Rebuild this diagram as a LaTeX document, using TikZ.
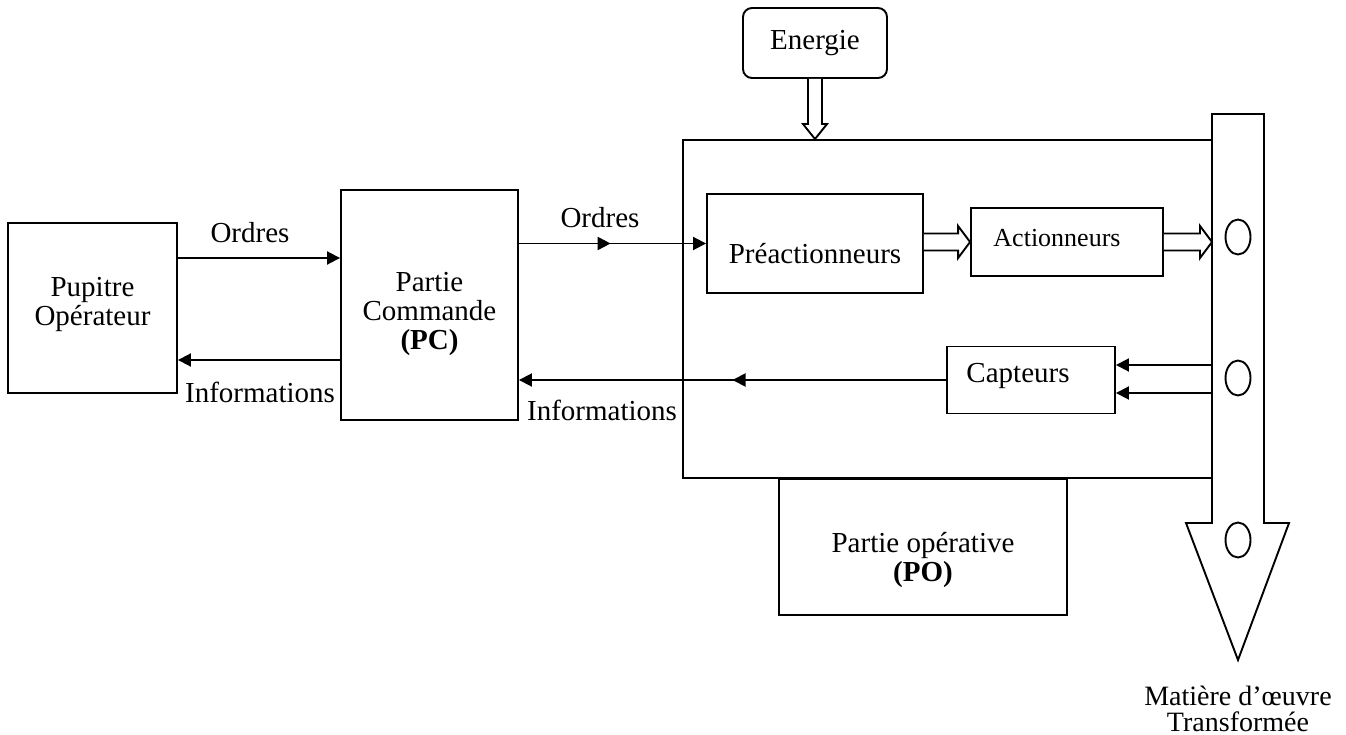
\documentclass[tikz,border=0pt]{standalone}
\usepackage{fontspec}
\setmainfont{Liberation Serif}
\usetikzlibrary{arrows.meta,calc,shapes.geometric,decorations.markings}

% horizontal hollow arrow: #1 = start point, #2 = tip
\newcommand\hollowright[2]{%
  \draw[hollow] ($(#1)+(0,-8.5)$) -- ($(#2)+(-12,-8.5)$) -- ($(#2)+(-12,-16)$)
    -- (#2) -- ($(#2)+(-12,16)$) -- ($(#2)+(-12,8.5)$) -- ($(#1)+(0,8.5)$);}

\begin{document}
\begin{tikzpicture}[x=1pt,y=-1pt,line width=1.9pt,
  txt/.style={font=\fontsize{29}{29}\selectfont},
  box/.style={draw,rectangle,inner sep=0pt,align=center,txt},
  lbl/.style={inner sep=0pt,align=center,txt},
  tip/.style={-{Triangle[length=13pt,width=13pt]}},
  midtip/.style={postaction={decorate},decoration={markings,
    mark=at position #1 with {\arrow{Triangle[length=13pt,width=13pt]}}}},
  hollow/.style={fill=white,line join=miter},
  hole/.style={draw,ellipse,minimum width=25pt,minimum height=35pt,inner sep=0pt}]
\useasboundingbox (0,0) rectangle (1346,735);

% operator desk and control part
\node[box,minimum width=169,minimum height=170,
  label={[lbl,yshift=4pt]center:Pupitre\\Opérateur}] (pup) at (92.5,308) {};
\node[box,minimum width=177,minimum height=230,
  label={[lbl,yshift=-9pt]center:Partie\\Commande\\\textbf{(PC)}}] (pc) at (429.5,305) {};

% operative part frame and its blocks
\node[draw,rectangle,minimum width=529,minimum height=338,inner sep=0pt] (op) at (947.5,309) {};
\node[box,minimum width=216,minimum height=99,
  label={[lbl,yshift=-10pt]center:Préactionneurs}] (pre) at (815,243.5) {};
\node[box,minimum width=192,minimum height=68,
  label={[lbl,font=\fontsize{26}{26}\selectfont,xshift=-10pt,yshift=4pt]center:Actionneurs}] (act) at (1067,242) {};
\node[box,minimum width=168,minimum height=67,
  label={[lbl,xshift=-13pt,yshift=4pt]center:Capteurs}] (capt) at (1031,380) {};
\node[box,minimum width=288,minimum height=136,
  label={[lbl,yshift=-13pt]center:Partie opérative\\\textbf{(PO)}}] (po) at (923,547) {};

% energy supply
\node[box,rounded corners=9pt,minimum width=144,minimum height=70] (en) at (815,43) {Energie};
\coordinate (entip) at (en.south |- op.north);
\draw[hollow] ($(en.south)+(-7,0)$) -- ($(entip)+(-7,-15)$) -- ($(entip)+(-12,-15)$)
  -- (entip) -- ($(entip)+(12,-15)$) -- ($(entip)+(7,-15)$) -- ($(en.south)+(7,0)$);

% flow of work material
\coordinate (flowL) at (1212,114);
\draw[fill=white,line join=miter] (flowL) -- (1264,114) -- (1264,523) -- (1289,523)
  -- (1238,660) -- (1186,523) -- (1212,523) -- cycle;
\node[hole] (h1) at (1238,237) {};
\node[hole] (h2) at (1238,378) {};
\node[hole] (h3) at (1238,540) {};
\node[lbl,font=\fontsize{28}{26}\selectfont,anchor=north] (out) at (1238,685) {Matière d’œuvre\\Transformée};

% orders and information between desk and control part
\coordinate (o1) at ($(pup.east)+(0,-50)$);
\coordinate (i1) at ($(pup.east)+(0,52)$);
\draw[tip] (o1) -- (o1 -| pc.west);
\draw[tip] (i1 -| pc.west) -- (i1);
\node[lbl] (ord1) at (250,233) {Ordres};
\node[lbl] (inf1) at (260,392) {Informations};

% orders and information between control and operative parts
\draw[tip,midtip=0.49] (pc.east |- pre.west) -- (pre.west);
\draw[tip,midtip=0.5] (capt.west) -- (capt.west -| pc.east);
\node[lbl] (ord2) at (600,218) {Ordres};
\node[lbl] (inf2) at (602,410) {Informations};

% power flow to the material
\hollowright{pre.east |- act.west}{act.west}
\coordinate (atip) at (act.east -| flowL);
\hollowright{act.east}{atip}

% sensors reading the material
\coordinate (c1) at ($(capt.east)+(0,-15)$);
\coordinate (c2) at ($(capt.east)+(0,13)$);
\draw[tip] (c1 -| flowL) -- (c1);
\draw[tip] (c2 -| flowL) -- (c2);
\end{tikzpicture}
\end{document}
